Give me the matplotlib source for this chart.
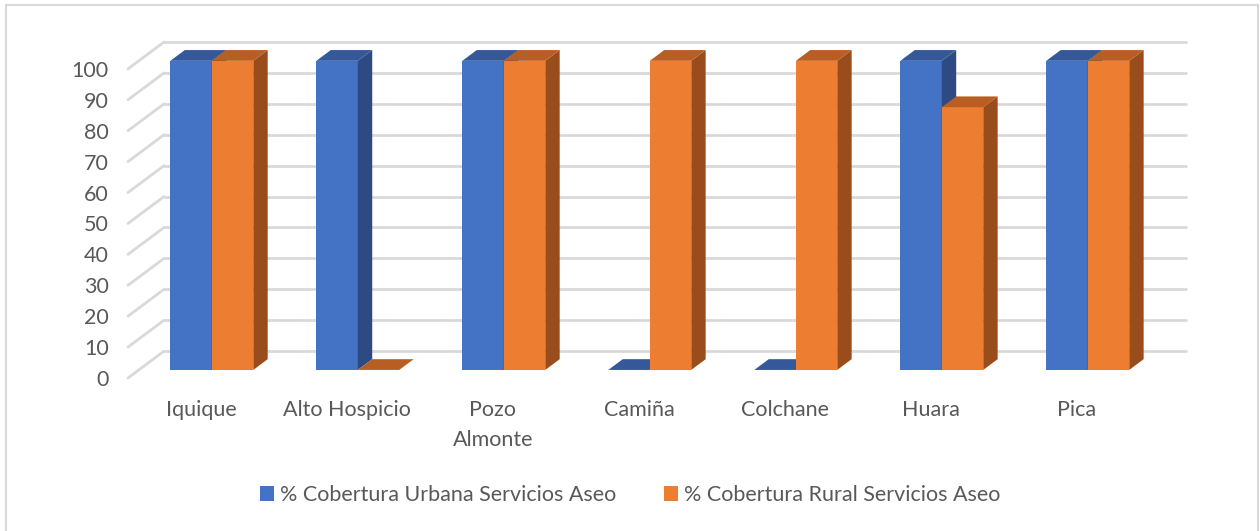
"""Cobertura servicios de aseo por comuna, columnas 3D estilo Excel."""
import matplotlib.pyplot as plt
from matplotlib.patches import Polygon, Rectangle

categories = ["Iquique", "Alto Hospicio", "Pozo Almonte", "Camiña", "Colchane", "Huara", "Pica"]
tick_labels = ["Iquique", "Alto Hospicio", "Pozo\nAlmonte", "Camiña", "Colchane", "Huara", "Pica"]
urbana = [100, 100, 100, 0, 0, 100, 100]
rural = [100, 0, 100, 100, 100, 85, 100]
y_ticks = list(range(0, 101, 10))
series_names = ["% Cobertura Urbana Servicios Aseo", "% Cobertura Rural Servicios Aseo"]

# colores: frente, tapa, lado
BLUE = ("#4472C4", "#34589A", "#2D4B82")
ORANGE = ("#ED7D31", "#B85E22", "#9A4D1C")
GRID = "#d9d9d9"
TXT = "#595959"
FS = 15.5

# profundidad de la pared (unidades de categoría / de valor)
DX, DY = 0.247, 8.7
BAR_D0, BAR_D = 0.3, 0.4   # posición y espesor de la barra en profundidad
W = 0.284

plt.rcParams["font.family"] = ["Lato", "DejaVu Sans"]

W_PX, H_PX = 1260, 531
fig = plt.figure(figsize=(W_PX / 100, H_PX / 100), dpi=100)
x0, x1, ytop, ybot = 128, 1186, 42, 378
ax = fig.add_axes([x0 / W_PX, 1 - ybot / H_PX, (x1 - x0) / W_PX, (ybot - ytop) / H_PX])
ax.set_xlim(-0.5, len(categories) - 0.5 + DX)
ax.set_ylim(0, 100 + DY)
for s in ax.spines.values():
    s.set_visible(False)

# rejilla: diagonal izquierda + línea en la pared del fondo
for v in y_ticks:
    ax.plot([-0.5, -0.5 + DX], [v, v + DY], color=GRID, lw=2, zorder=1,
            solid_capstyle="round", clip_on=False)
    ax.plot([-0.5 + DX, len(categories) - 0.5 + DX], [v + DY, v + DY],
            color=GRID, lw=2, zorder=1, solid_capstyle="round", clip_on=False)


def box(xl, val, colors, z):
    front, top, side = colors
    bx, by = BAR_D * DX, BAR_D * DY
    base = BAR_D0 * DY
    xr = xl + W
    h = ax.bar(xl, val, width=W, bottom=base, align="edge", color=front,
               zorder=z, clip_on=False, linewidth=0)
    yt = base + val
    ax.add_patch(Polygon([(xr, base), (xr + bx, base + by), (xr + bx, yt + by), (xr, yt)],
                         closed=True, fc=side, ec="none", zorder=z, clip_on=False))
    ax.add_patch(Polygon([(xl, yt), (xr, yt), (xr + bx, yt + by), (xl + bx, yt + by)],
                         closed=True, fc=top, ec="none", zorder=z, clip_on=False))
    return h


handles = []
for i in range(len(categories)):
    c = i + BAR_D0 * DX
    hb = box(c - W, urbana[i], BLUE, 3 + 2 * i)
    ho = box(c, rural[i], ORANGE, 4 + 2 * i)
    if i == 0:
        handles = [hb, ho]

ax.set_yticks(y_ticks)
ax.set_yticklabels([str(v) for v in y_ticks])
ax.set_xticks(range(len(categories)))
ax.set_xticklabels(tick_labels, linespacing=1.6, va="top")
ax.tick_params(axis="both", length=0, labelsize=FS, labelcolor=TXT)
ax.tick_params(axis="y", pad=14)
ax.tick_params(axis="x", pad=16)

fig.legend(handles, series_names, loc="center", bbox_to_anchor=(0.5, 1 - 495 / H_PX),
           ncol=2, frameon=False, fontsize=FS, labelcolor=TXT,
           handlelength=0.65, handleheight=0.65, handletextpad=0.3, columnspacing=2.2)

# borde del área del gráfico
fig.patches.append(Rectangle((6 / W_PX, -0.05), (1258 - 6) / W_PX, 1.05 - 5 / H_PX,
                             transform=fig.transFigure, fill=False, ec=GRID, lw=1.5))

fig.savefig("out.png", dpi=100)
